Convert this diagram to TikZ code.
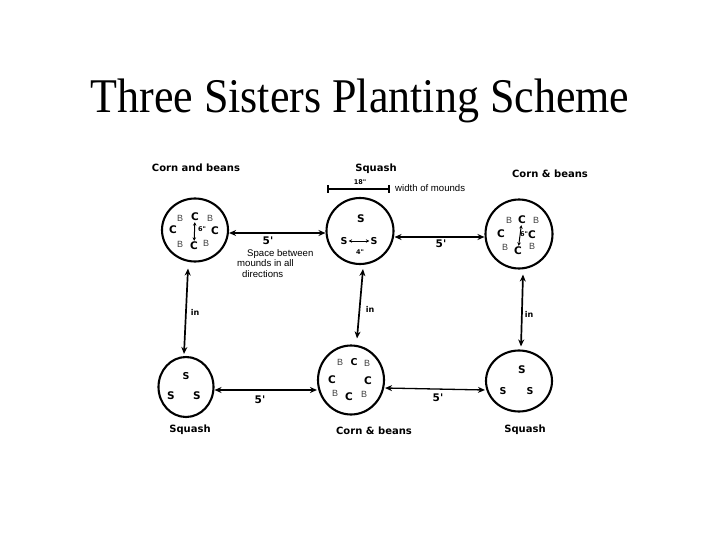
\documentclass[tikz,border=0pt]{standalone}
\usepackage{fontspec}
\setmainfont{Liberation Serif}
\newfontfamily\hand{DejaVu Sans}
\newfontfamily\thin{Liberation Sans}
\usetikzlibrary{shapes.geometric,arrows.meta}
\tikzset{
  mound/.style={ellipse, draw, line width=2.1pt, inner sep=0pt},
  link/.style={line width=1.3pt, {Stealth[length=7pt,width=6pt]}-{Stealth[length=7pt,width=6pt]}},
  vlink/.style={link, line width=1.7pt},
  smalllink/.style={line width=1pt, {Stealth[length=3.5pt,width=3.5pt]}-{Stealth[length=3.5pt,width=3.5pt]}},
  lbl/.style={font=\hand\bfseries\fontsize{10}{11}\selectfont, inner sep=1pt},
  big/.style={font=\hand\bfseries\fontsize{10.5}{12}\selectfont, inner sep=1pt},
  mid/.style={font=\hand\bfseries\fontsize{9.5}{10}\selectfont, inner sep=1pt},
  bean/.style={font=\thin\fontsize{9}{10}\selectfont, text=black!75, inner sep=1pt},
  note/.style={font=\thin\fontsize{9.6}{10.5}\selectfont, align=left, inner sep=0pt},
  tinylbl/.style={font=\hand\bfseries\fontsize{6.5}{7}\selectfont, inner sep=1pt},
  inlbl/.style={font=\hand\bfseries\fontsize{8}{9}\selectfont, inner sep=1pt},
}
\begin{document}
\begin{tikzpicture}[x=1pt,y=-1pt]
\useasboundingbox (0,0) rectangle (720,540);
% title
\node[font=\fontsize{44}{50}\selectfont, anchor=base, inner sep=0pt] (title) at (360,113) {\scalebox{1}[1.1]{Three Sisters Planting Scheme}};

% mounds
\node[mound, minimum width=66pt, minimum height=63pt] (tl) at (195,230) {};
\node[mound, minimum width=67pt, minimum height=66pt] (tm) at (360,231) {};
\node[mound, minimum width=67pt, minimum height=69pt] (tr) at (519,234) {};
\node[mound, minimum width=55pt, minimum height=60pt] (bl) at (186,387) {};
\node[mound, minimum width=66pt, minimum height=69pt] (bm) at (351,380) {};
\node[mound, minimum width=66pt, minimum height=61pt] (br) at (519,381) {};

% top labels
\node[lbl] (l1) at (196,168) {Corn and beans};
\node[lbl] (l2) at (376,169) {Squash};
\node[lbl] (l3) at (550,174) {Corn \& beans};
% bottom labels
\node[lbl] (l4) at (190,430) {Squash};
\node[lbl] (l5) at (374,431) {Corn \& beans};
\node[lbl] (l6) at (525,430) {Squash};

% width of mounds bar
\coordinate (wa) at (327,189);
\coordinate (wb) at (390,189);
\draw[line width=1.6pt, {Bar[width=8pt]}-{Bar[width=8pt]}] (wa) -- (wb);
\node[tinylbl] (w18) at (360,182) {18"};
\node[note, anchor=west] (wn) at (395,188) {width of mounds};

% top-left mound contents
\node[bean] (a1) at (180,218) {B};
\node[big] (a2) at (195,217) {C};
\node[bean] (a3) at (210,218) {B};
\node[big] (a4) at (173,230) {C};
\node[big] (a5) at (215,231) {C};
\node[bean] (a6) at (180,244) {B};
\node[big] (a7) at (194,246) {C};
\node[bean] (a8) at (206,243) {B};
\node[tinylbl] (a9) at (202,229) {6"};
\draw[smalllink] (a2) -- (a7);

% top-middle contents
\node[big] (b1) at (361,219) {S};
\node[mid] (b2) at (344,241) {S};
\node[mid] (b3) at (374,241) {S};
\draw[smalllink] (b2) -- (b3);
\node[tinylbl] (b4) at (360,252) {4"};

% top-right contents
\node[bean] (c1) at (509,220) {B};
\node[big] (c2) at (522,220) {C};
\node[bean] (c3) at (536,220) {B};
\node[big] (c4) at (501,234) {C};
\node[tinylbl] (c5) at (524,234) {6"};
\node[big] (c6) at (532,235) {C};
\node[bean] (c7) at (505,247) {B};
\node[big] (c8) at (518,251) {C};
\node[bean] (c9) at (532,246) {B};
\draw[smalllink] (c2) -- (c8);

% bottom-left contents
\node[mid] (d1) at (186,376) {S};
\node[big] (d2) at (171,396) {S};
\node[big] (d3) at (197,396) {S};

% bottom-middle contents
\node[bean] (e1) at (340,362) {B};
\node[mid] (e2) at (354,362) {C};
\node[bean] (e3) at (367,363) {B};
\node[big] (e4) at (332,380) {C};
\node[big] (e5) at (368,381) {C};
\node[bean] (e6) at (335,393) {B};
\node[big] (e7) at (349,397) {C};
\node[bean] (e8) at (364,394) {B};

% bottom-right contents
\node[big] (f1) at (522,370) {S};
\node[mid] (f2) at (503,391) {S};
\node[mid] (f3) at (530,391) {S};

% horizontal connectors
\draw[link] ([yshift=-3pt]tl.east) -- ([yshift=-2pt]tm.west);
\draw[link] ([yshift=-6pt]tm.east) -- ([yshift=-3pt]tr.west);
\draw[link] ([yshift=-3pt]bl.east) -- ([yshift=-10pt]bm.west);
\draw[link] ([yshift=-8pt]bm.east) -- ([yshift=-9pt]br.west);
\node[big] (s1) at (268,241) {5'};
\node[big] (s2) at (441,244) {5'};
\node[big] (s3) at (260,400) {5'};
\node[big] (s4) at (438,398) {5'};
\node[note, anchor=north west] (sp) at (237,249) {\hspace*{10pt}Space between\\mounds in all\\\hspace*{5pt}directions};

% vertical connectors
\draw[vlink] ([shift={(-7pt,-6pt)}]tl.south) -- ([shift={(-2pt,2pt)}]bl.north);
\draw[vlink] ([shift={(3pt,-4pt)}]tm.south) -- ([shift={(6pt,6pt)}]bm.north);
\draw[vlink] ([shift={(4pt,-5pt)}]tr.south) -- ([shift={(2pt,3pt)}]br.north);
\node[inlbl] (v1) at (195,312) {in};
\node[inlbl] (v2) at (370,309) {in};
\node[inlbl] (v3) at (529,314) {in};
\end{tikzpicture}
\end{document}
